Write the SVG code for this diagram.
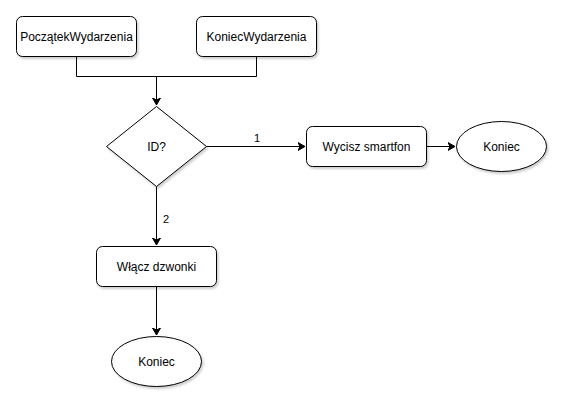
<svg xmlns="http://www.w3.org/2000/svg" width="569" height="409" viewBox="0 0 569 409">
<style>
.box{fill:#fff;stroke:#000;stroke-width:1;filter:url(#sh)}
.t{font-family:"Liberation Sans",Arial,sans-serif;font-size:12px;fill:#000;text-anchor:middle;dominant-baseline:central}
.lbl{font-family:"Liberation Sans",Arial,sans-serif;font-size:11px;fill:#000;text-anchor:middle}
.c{fill:none;stroke:#000;stroke-width:1}
</style>
<defs>
<filter id="sh" x="-10%" y="-10%" width="130%" height="140%">
<feDropShadow dx="1.5" dy="2" stdDeviation="0.8" flood-color="#000" flood-opacity="0.2"/>
</filter>
<marker id="a" markerWidth="10" markerHeight="10" refX="7" refY="4" orient="auto" markerUnits="userSpaceOnUse" viewBox="0 0 10 8">
<path d="M0,0 L7,4 L0,8 L2,4 Z" fill="#000" stroke="#000" stroke-width="1"/>
</marker>
</defs>
<rect width="569" height="409" fill="#fff"/>
<g id="connectors">
<path class="c" d="M76.5,56.5 V76.5 H256.5 V56.5"/>
<path class="c" d="M156.5,76.5 V105" marker-end="url(#a)"/>
<path class="c" d="M206.5,146.5 H305" marker-end="url(#a)"/>
<text class="lbl" x="257" y="142">1</text>
<path class="c" d="M426.5,146.5 H455" marker-end="url(#a)"/>
<path class="c" d="M156.5,186.5 V245" marker-end="url(#a)"/>
<text class="lbl" x="166" y="223">2</text>
<path class="c" d="M156.5,286.5 V335" marker-end="url(#a)"/>
</g>
<g id="poczatek">
<rect class="box" x="16.5" y="16.5" width="120" height="40" rx="6"/>
<text class="t" x="76.5" y="36.5">PoczątekWydarzenia</text>
</g>
<g id="koniecWyd">
<rect class="box" x="196.5" y="16.5" width="120" height="40" rx="6"/>
<text class="t" x="256.5" y="36.5">KoniecWydarzenia</text>
</g>
<g id="id">
<path class="box" d="M156.5,106.5 L206.5,146.5 L156.5,186.5 L106.5,146.5 Z"/>
<text class="t" x="156.5" y="146.5">ID?</text>
</g>
<g id="wycisz">
<rect class="box" x="306.5" y="126.5" width="120" height="40" rx="6"/>
<text class="t" x="366.5" y="146.5">Wycisz smartfon</text>
</g>
<g id="koniec1">
<ellipse class="box" cx="501.5" cy="146.5" rx="45" ry="25"/>
<text class="t" x="501.5" y="146.5">Koniec</text>
</g>
<g id="wlacz">
<rect class="box" x="96.5" y="246.5" width="120" height="40" rx="6"/>
<text class="t" x="156.5" y="266.5">Włącz dzwonki</text>
</g>
<g id="koniec2">
<ellipse class="box" cx="156.5" cy="361.5" rx="45" ry="25"/>
<text class="t" x="156.5" y="361.5">Koniec</text>
</g>
</svg>
